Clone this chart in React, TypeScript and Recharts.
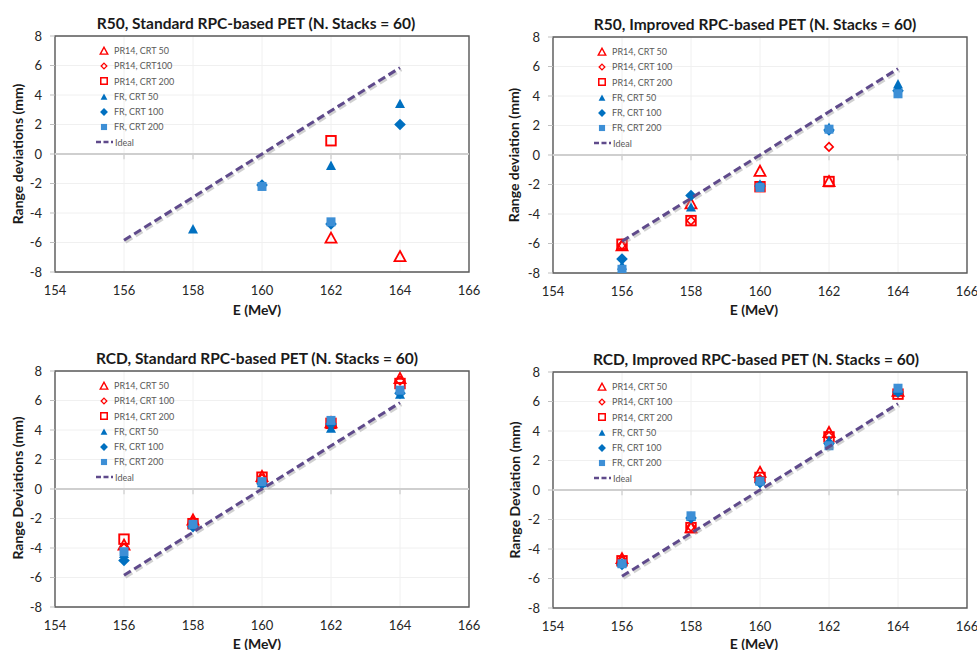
import React from 'react';
import {
  ScatterChart,
  Scatter,
  XAxis,
  YAxis,
  CartesianGrid,
  ReferenceLine,
  ReferenceArea,
  Legend,
} from 'recharts';

// ---------- data ----------
const energies = [156, 158, 160, 162, 164];
const xTicks = [154, 156, 158, 160, 162, 164, 166];
const yTicks = [-8, -6, -4, -2, 0, 2, 4, 6, 8];
const ideal = [-5.85, -2.93, 0, 2.93, 5.85];

// R50, Standard
const r50StdPr50 = [null, null, null, -5.7, -6.95];
const r50StdPr100 = [null, null, null, null, null];
const r50StdPr200 = [null, null, null, 0.9, null];
const r50StdFr50 = [null, -5.1, null, -0.8, 3.4];
const r50StdFr100 = [null, null, -2.1, -4.75, 2.0];
const r50StdFr200 = [null, null, -2.2, -4.6, null];

// R50, Improved
const r50ImpPr50 = [-6.15, -3.3, -1.1, -1.8, null];
const r50ImpPr100 = [-6.1, -4.45, -2.15, 0.55, null];
const r50ImpPr200 = [-6.05, -4.45, -2.15, -1.8, null];
const r50ImpFr50 = [-7.5, -3.55, -2.0, 1.85, 4.8];
const r50ImpFr100 = [-7.05, -2.75, -2.1, 1.7, 4.35];
const r50ImpFr200 = [-7.75, null, -2.2, 1.75, 4.15];

// RCD, Standard
const rcdStdPr50 = [-3.8, -2.1, 0.85, 4.5, 7.5];
const rcdStdPr100 = [-4.0, -2.2, 0.7, 4.3, 7.35];
const rcdStdPr200 = [-3.4, -2.35, 0.8, 4.45, 7.15];
const rcdStdFr50 = [-4.4, -2.45, 0.4, 4.1, 6.4];
const rcdStdFr100 = [-4.85, -2.55, 0.35, 4.4, 6.5];
const rcdStdFr200 = [-4.25, -2.4, 0.5, 4.65, 6.7];

// RCD, Improved
const rcdImpPr50 = [-4.65, -2.55, 1.2, 3.9, 6.7];
const rcdImpPr100 = [-4.8, -2.5, 0.75, 3.65, 6.6];
const rcdImpPr200 = [-4.8, -2.55, 0.85, 3.6, 6.5];
const rcdImpFr50 = [-4.95, -1.8, 0.6, 3.35, 6.75];
const rcdImpFr100 = [-5.05, -1.9, 0.5, 3.15, 6.65];
const rcdImpFr200 = [-5.0, -1.75, 0.6, 3.0, 6.9];

const labelsA = ['PR14, CRT 50', 'PR14, CRT100', 'PR14, CRT 200', 'FR, CRT 50', 'FR, CRT 100', 'FR, CRT 200', 'Ideal'];
const labelsB = ['PR14, CRT 50', 'PR14, CRT 100', 'PR14, CRT 200', 'FR, CRT 50', 'FR, CRT 100', 'FR, CRT 200', 'Ideal'];

const titles = [
  'R50, Standard RPC-based PET (N. Stacks = 60)',
  'R50, Improved RPC-based PET (N. Stacks = 60)',
  'RCD, Standard RPC-based PET (N. Stacks = 60)',
  'RCD, Improved RPC-based PET (N. Stacks = 60)',
];
const yLabels = ['Range deviations (mm)', 'Range deviation (mm)', 'Range Deviations (mm)', 'Range Deviation (mm)'];
const xLabel = 'E (MeV)';

// ---------- styling ----------
const RED = '#ff0000';
const BLUE = '#0070c0';
const LBLUE = '#3d8fd6';
const IDEAL = '#5f4a8b';
const FONT = 'Lato, "Open Sans", sans-serif';

const markerTypes = ['triOpen', 'diaOpen', 'sqOpen', 'triFill', 'diaFill', 'sqFill'];

function Marker({ type, cx, cy, k = 1 }: { type: string; cx: number; cy: number; k?: number }) {
  if (cx == null || cy == null || isNaN(cx) || isNaN(cy)) return <g />;
  switch (type) {
    case 'triOpen': {
      const s = 11 * k;
      return (
        <path
          d={`M${cx},${cy - s * 0.5} L${cx + s / 2},${cy + s * 0.42} L${cx - s / 2},${cy + s * 0.42} Z`}
          fill="#fff"
          fillOpacity={0}
          stroke={RED}
          strokeWidth={1.8 * Math.max(k, 0.8)}
          strokeLinejoin="miter"
        />
      );
    }
    case 'diaOpen': {
      const s = 4.2 * k;
      return (
        <path
          d={`M${cx},${cy - s} L${cx + s},${cy} L${cx},${cy + s} L${cx - s},${cy} Z`}
          fill="none"
          stroke={RED}
          strokeWidth={1.6 * Math.max(k, 0.8)}
        />
      );
    }
    case 'sqOpen': {
      const s = 9.5 * k;
      return (
        <rect x={cx - s / 2} y={cy - s / 2} width={s} height={s} fill="none" stroke={RED} strokeWidth={1.9 * Math.max(k, 0.8)} />
      );
    }
    case 'triFill': {
      const s = 10 * k;
      return (
        <path
          d={`M${cx},${cy - s * 0.52} L${cx + s / 2},${cy + s * 0.42} L${cx - s / 2},${cy + s * 0.42} Z`}
          fill={BLUE}
        />
      );
    }
    case 'diaFill': {
      const s = 5.8 * k;
      return <path d={`M${cx},${cy - s} L${cx + s},${cy} L${cx},${cy + s} L${cx - s},${cy} Z`} fill={BLUE} />;
    }
    case 'sqFill': {
      const s = 9 * k;
      return <rect x={cx - s / 2} y={cy - s / 2} width={s} height={s} fill={LBLUE} />;
    }
    default:
      return <g />;
  }
}

const toPts = (vals: (number | null)[]) =>
  energies.map((x, i) => ({ x, y: vals[i] })).filter((p) => p.y !== null && p.y !== undefined);

function LegendBox({ labels }: { labels: string[] }) {
  return (
    <div style={{ fontFamily: FONT, fontSize: 9, color: '#595959', lineHeight: '15.3px' }}>
      {labels.map((lab, i) => (
        <div key={lab + i} style={{ display: 'flex', alignItems: 'center', height: 15.3, whiteSpace: 'nowrap' }}>
          <svg width={18} height={14} style={{ display: 'block' }}>
            {i < 6 ? (
              <Marker type={markerTypes[i]} cx={8} cy={7} k={0.68} />
            ) : (
              <line x1={0} y1={7} x2={17} y2={7} stroke={IDEAL} strokeWidth={2.5} strokeDasharray="5 2.5" />
            )}
          </svg>
          <span style={{ marginLeft: i < 6 ? 0 : 1 }}>{lab}</span>
        </div>
      ))}
    </div>
  );
}

type PanelProps = {
  left: number;
  top: number;
  width: number;
  series: (number | null)[][];
  labels: string[];
};

const PLOT_W = 414;
const PLOT_H = 236;

function Panel({ left, top, width, series, labels }: PanelProps) {
  const tickStyle = { fill: '#262626', fontSize: 13, fontFamily: FONT };
  return (
    <div style={{ position: 'absolute', left, top }}>
      <ScatterChart
        width={width}
        height={325}
        margin={{ top: 36, left: 25, right: width - 55 - PLOT_W, bottom: 325 - 36 - PLOT_H - 30 }}
      >
        <CartesianGrid stroke="#f0f0f0" strokeWidth={1} />
        <XAxis
          type="number"
          dataKey="x"
          domain={[154, 166]}
          ticks={xTicks}
          interval={0}
          height={30}
          axisLine={false}
          tickLine={false}
          tickSize={0}
          tickMargin={14}
          tick={tickStyle}
          allowDataOverflow
        />
        <YAxis
          type="number"
          dataKey="y"
          domain={[-8, 8]}
          ticks={yTicks}
          interval={0}
          width={30}
          axisLine={false}
          tickLine={{ stroke: '#bfbfbf' }}
          tickSize={5}
          tickMargin={8}
          tick={tickStyle}
          allowDataOverflow
        />
        <ReferenceLine y={0} stroke="#cfcfcf" strokeWidth={2} />
        {xTicks.slice(1, -1).map((t) => (
          <ReferenceLine
            key={'t' + t}
            segment={[
              { x: t, y: 0 },
              { x: t, y: -0.35 },
            ]}
            stroke="#cfcfcf"
            strokeWidth={1.3}
          />
        ))}
        <ReferenceArea x1={154} x2={166} y1={-8} y2={8} fill="none" stroke="#595959" strokeWidth={1.4} ifOverflow="visible" />
        {series.map((vals, i) => (
          <Scatter
            key={'s' + i}
            name={labels[i]}
            data={toPts(vals)}
            isAnimationActive={false}
            shape={(p: any) => <Marker type={markerTypes[i]} cx={p.cx} cy={p.cy} />}
          />
        ))}
        <Scatter
          name="shadow"
          data={toPts(ideal)}
          isAnimationActive={false}
          line={{ stroke: '#9a9a9a', strokeWidth: 3, strokeDasharray: '8 4', strokeOpacity: 0.45, transform: 'translate(1.5,2)' } as any}
          shape={() => <g />}
        />
        <Scatter
          name="Ideal"
          data={toPts(ideal)}
          isAnimationActive={false}
          line={{ stroke: IDEAL, strokeWidth: 3, strokeDasharray: '8 4' } as any}
          shape={() => <g />}
        />
        <Legend
          layout="vertical"
          align="center"
          verticalAlign="middle"
          wrapperStyle={{ left: 96, top: 43, width: 'auto', height: 'auto' }}
          content={() => <LegendBox labels={labels} />}
        />
      </ScatterChart>
    </div>
  );
}

function Text({ x, y, text, size, rotate = false }: { x: number; y: number; text: string; size: number; rotate?: boolean }) {
  return (
    <div
      style={{
        position: 'absolute',
        left: x,
        top: y,
        transform: `translate(-50%, -50%)${rotate ? ' rotate(-90deg)' : ''}`,
        fontFamily: FONT,
        fontWeight: 700,
        fontSize: size,
        color: '#1a1a1a',
        whiteSpace: 'nowrap',
      }}
    >
      {text}
    </div>
  );
}

export default function App() {
  const panels = [
    { left: 0, top: 0, width: 490, series: [r50StdPr50, r50StdPr100, r50StdPr200, r50StdFr50, r50StdFr100, r50StdFr200], labels: labelsA },
    { left: 498, top: 1, width: 479, series: [r50ImpPr50, r50ImpPr100, r50ImpPr200, r50ImpFr50, r50ImpFr100, r50ImpFr200], labels: labelsB },
    { left: 0, top: 335, width: 490, series: [rcdStdPr50, rcdStdPr100, rcdStdPr200, rcdStdFr50, rcdStdFr100, rcdStdFr200], labels: labelsB },
    { left: 498, top: 336, width: 479, series: [rcdImpPr50, rcdImpPr100, rcdImpPr200, rcdImpFr50, rcdImpFr100, rcdImpFr200], labels: labelsB },
  ];
  const titlePos = [
    [256, 23],
    [755, 24],
    [257, 358],
    [756, 359],
  ];
  const yLabPos = [
    [17, 154],
    [513, 155],
    [17, 488],
    [514, 490],
  ];
  const xLabPos = [
    [257, 309],
    [754, 309],
    [257, 643],
    [754, 643],
  ];
  return (
    <div style={{ position: 'absolute', left: 0, top: 0, width: 977, height: 650, background: '#fff', overflow: 'hidden' }}>
      {panels.map((p, i) => (
        <Panel key={i} {...p} />
      ))}
      {titles.map((t, i) => (
        <Text key={'ti' + i} x={titlePos[i][0]} y={titlePos[i][1]} text={t} size={15.5} />
      ))}
      {yLabels.map((t, i) => (
        <Text key={'yl' + i} x={yLabPos[i][0]} y={yLabPos[i][1]} text={t} size={14} rotate />
      ))}
      {xLabPos.map((p, i) => (
        <Text key={'xl' + i} x={p[0]} y={p[1]} text={xLabel} size={14} />
      ))}
    </div>
  );
}
